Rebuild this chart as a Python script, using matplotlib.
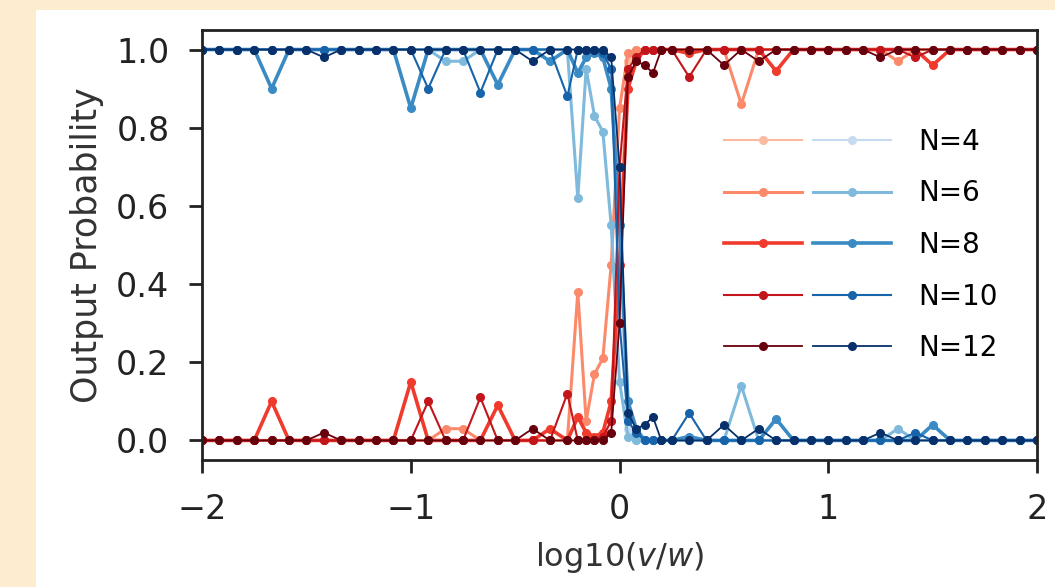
import numpy as np
import matplotlib
matplotlib.use("Agg")
import matplotlib.pyplot as plt
from matplotlib.legend_handler import HandlerTuple
from matplotlib.patches import Rectangle

# x grid: coarse on both sides, finer around the transition
x = np.concatenate([np.linspace(-2, -0.25, 22),
                    np.linspace(-0.2, 0.2, 11),
                    np.linspace(0.25, 2.0, 22)])

labels = ["N=4", "N=6", "N=8", "N=10", "N=12"]

#            left part (22)                                               middle (11)                                    right part (22)
red_n4 = [0]*22 + [0, 0, 0, 0, 0.05, 0.55, 0.97, 1, 1, 1, 1] + [1]*22
red_n6 = ([0]*14 + [0.03, 0.03] + [0]*6
          + [0.38, 0.05, 0.17, 0.21, 0.45, 0.85, 0.99, 1, 1, 1, 1]
          + [1, 1, 1, 1, 0.86, 1, 1, 1, 1, 1, 1, 1, 1, 0.97, 1, 1, 1, 1, 1, 1, 1, 1])
red_n8 = ([0, 0, 0, 0, 0.10, 0, 0, 0, 0, 0, 0, 0, 0.15, 0, 0, 0, 0, 0.09, 0, 0, 0.03, 0]
          + [0.06, 0.02, 0.01, 0.02, 0.10, 0.45, 0.90, 0.97, 1, 1, 1]
          + [1, 0.99, 1, 1, 1, 1, 0.945, 1, 1, 1, 1, 1, 1, 1, 1, 0.96, 1, 1, 1, 1, 1, 1])
red_n10 = ([0]*13 + [0.10, 0, 0, 0.11, 0, 0, 0, 0, 0.12]
           + [0, 0, 0, 0.01, 0.05, 0.70, 0.95, 0.98, 1, 1, 1]
           + [1, 0.93, 1, 1, 1, 1, 1, 1, 1, 1, 1, 1, 1, 1, 0.98, 1, 1, 1, 1, 1, 1, 1])
red_n12 = ([0, 0, 0, 0, 0, 0, 0, 0.02, 0, 0, 0, 0, 0, 0, 0, 0, 0, 0, 0, 0.03, 0, 0]
           + [0, 0, 0, 0, 0.02, 0.30, 0.93, 0.97, 0.96, 0.94, 1]
           + [1, 1, 1, 0.96, 1, 0.97, 1, 1, 1, 1, 1, 1, 0.98, 1, 1, 1, 1, 1, 1, 1, 1, 1])

blue_n4 = [1]*22 + [1, 1, 1, 1, 0.95, 0.45, 0.03, 0, 0, 0, 0] + [0]*22
blue_n6 = ([1]*14 + [0.97, 0.97] + [1]*6
           + [0.62, 0.95, 0.83, 0.79, 0.55, 0.15, 0.01, 0, 0, 0, 0]
           + [0, 0, 0, 0, 0.14, 0, 0, 0, 0, 0, 0, 0, 0, 0.03, 0, 0, 0, 0, 0, 0, 0, 0])
blue_n8 = ([1, 1, 1, 1, 0.90, 1, 1, 1, 1, 1, 1, 1, 0.85, 1, 1, 1, 1, 0.91, 1, 1, 0.97, 1]
           + [0.94, 0.98, 0.99, 0.98, 0.90, 0.55, 0.10, 0.03, 0, 0, 0]
           + [0, 0.01, 0, 0, 0, 0, 0.055, 0, 0, 0, 0, 0, 0, 0, 0, 0.04, 0, 0, 0, 0, 0, 0])
blue_n10 = ([1]*13 + [0.90, 1, 1, 0.89, 1, 1, 1, 1, 0.88]
            + [1, 1, 1, 0.99, 0.95, 0.30, 0.05, 0.02, 0, 0, 0]
            + [0, 0.07, 0, 0, 0, 0, 0, 0, 0, 0, 0, 0, 0, 0, 0.02, 0, 0, 0, 0, 0, 0, 0])
blue_n12 = ([1, 1, 1, 1, 1, 1, 1, 0.98, 1, 1, 1, 1, 1, 1, 1, 1, 1, 1, 1, 0.97, 1, 1]
            + [1, 1, 1, 1, 0.98, 0.70, 0.07, 0.03, 0.04, 0.06, 0]
            + [0, 0, 0, 0.04, 0, 0.03, 0, 0, 0, 0, 0, 0, 0.02, 0, 0, 0, 0, 0, 0, 0, 0, 0])

reds = [red_n4, red_n6, red_n8, red_n10, red_n12]
blues = [blue_n4, blue_n6, blue_n8, blue_n10, blue_n12]

red_cols = ["#fcbba1", "#fc8a6a", "#f03b2c", "#c2151c", "#67000d"]
blue_cols = ["#c6dbef", "#7fbadc", "#3a8ac3", "#1764ab", "#08306b"]
widths = [1.5, 2.2, 2.6, 1.5, 1.3]

fig = plt.figure(figsize=(10.55, 5.87), dpi=100)
fig.patch.set_facecolor("#fdeccf")
fig.patches.append(Rectangle((36 / 1055, 0), 1 - 36 / 1055, 1 - 10 / 587,
                             transform=fig.transFigure, facecolor="white",
                             edgecolor="none", zorder=-10))
ax = fig.add_axes([0.1915, 0.2164, 0.983 - 0.1915, 0.9489 - 0.2164])

handles = []
for i in range(5):
    r, = ax.plot(x, reds[i], "o-", color=red_cols[i], lw=widths[i], ms=5.5)
    b, = ax.plot(x, blues[i], "o-", color=blue_cols[i], lw=widths[i], ms=5.5)
    handles.append((r, b))

ax.set_xlim(-2, 2)
ax.set_ylim(-0.05, 1.05)
ax.set_xticks([-2, -1, 0, 1, 2])
ax.set_yticks([0.0, 0.2, 0.4, 0.6, 0.8, 1.0])
ax.tick_params(labelsize=24, length=9.5, width=2, pad=14, colors="#222222")
for s in ax.spines.values():
    s.set_linewidth(2)
    s.set_color("#222222")
ax.set_xlabel("log10($v/w$)", fontsize=23, labelpad=10, color="#333333")
ax.set_ylabel("Output Probability", fontsize=25, labelpad=9, color="#333333")

ax.legend(handles, labels, handler_map={tuple: HandlerTuple(ndivide=None, pad=0.4)},
          handlelength=6.0, fontsize=20, frameon=False, loc="center left",
          bbox_to_anchor=(0.595, 0.5), labelspacing=0.85, handletextpad=1.0)

fig.savefig("out.png", dpi=100, facecolor=fig.get_facecolor())
